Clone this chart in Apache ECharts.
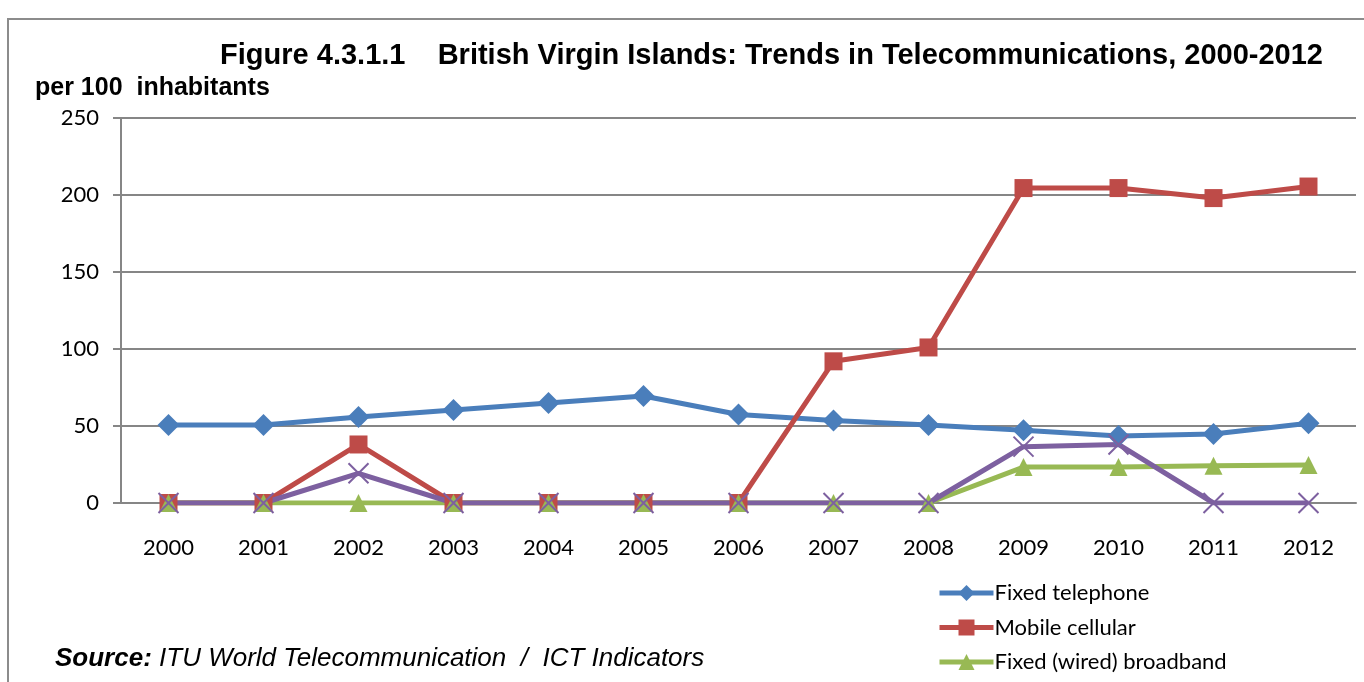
<!DOCTYPE html>
<html lang="en">
<head>
    <meta charset="UTF-8">
    <title>British Virgin Islands: Trends in Telecommunications</title>
    <script src="https://cdn.jsdelivr.net/npm/echarts@6/dist/echarts.min.js"></script>
    <style>
        html, body { margin: 0; padding: 0; background: #fff; }
        #main { width: 1364px; height: 682px; }
    </style>
</head>
<body>
<div id="main"></div>
<script>
    // data
    const years = ['2000', '2001', '2002', '2003', '2004', '2005', '2006', '2007', '2008', '2009', '2010', '2011', '2012']
    const fixedTelephone = [50.6, 50.6, 55.8, 60.4, 65, 69.5, 57.5, 53.5, 50.6, 47.2, 43.5, 44.8, 51.8]
    const mobileCellular = [0, 0, 38, 0, 0, 0, 0, 92, 101, 204.5, 204.5, 198, 205.5]
    const fixedBroadband = [0, 0, 0, 0, 0, 0, 0, 0, 0, 23.3, 23.3, 24.2, 24.6]
    const internetUsers = [0, 0, 19.3, 0, 0, 0, 0, 0, 0, 36.6, 38, 0, 0]

    const labelFont = 'Lato, "Open Sans", sans-serif'
    const titleFont = '"Liberation Sans Narrow", "Liberation Sans", Arial, sans-serif'

    function lineSeries(name, data, color, symbol, size) {
        return {
            name: name,
            type: 'line',
            data: data,
            symbol: symbol,
            symbolSize: size,
            lineStyle: { color: color, width: 5 },
            itemStyle: { color: color },
            emphasis: { disabled: true }
        }
    }

    const cross = lineSeries('Internet users', internetUsers, '#7D60A0',
        'path://M0,0L10,10M10,0L0,10', 20)
    cross.itemStyle = { color: 'none', borderColor: '#7D60A0', borderWidth: 2 }

    const chart = echarts.init(document.getElementById('main'))
    chart.setOption({
        animation: false,
        textStyle: { fontFamily: labelFont },
        title: {
            text: 'Figure 4.3.1.1    British Virgin Islands: Trends in Telecommunications, 2000-2012',
            right: 36,
            top: 36,
            textStyle: { fontFamily: titleFont, fontSize: 29, fontWeight: 'bold', color: '#000' }
        },
        graphic: [
            {
                type: 'rect',
                shape: { x: 8, y: 19, width: 1400, height: 700 },
                style: { fill: 'none', stroke: '#8c8c8c', lineWidth: 2 },
                silent: true
            },
            {
                type: 'text',
                left: 35,
                top: 76,
                style: { text: 'per 100  inhabitants', font: 'bold 25px ' + titleFont, fill: '#000' }
            },
            {
                type: 'text',
                left: 55,
                top: 646,
                style: {
                    text: '{b|Source:} ITU World Telecommunication  /  ICT Indicators',
                    font: 'italic 26px ' + titleFont,
                    fill: '#000',
                    rich: {
                        b: { font: 'italic bold 26px ' + titleFont, fill: '#000' }
                    }
                }
            }
        ],
        legend: {
            orient: 'vertical',
            left: 932,
            top: 577,
            height: 400,
            itemWidth: 54,
            itemHeight: 20,
            itemGap: 12.5,
            lineStyle: { width: 5 },
            textStyle: { fontFamily: labelFont, fontSize: 22, color: '#000', padding: [0, 0, 0, -4] },
            data: ['Fixed telephone', 'Mobile cellular', 'Fixed (wired) broadband', 'Internet users']
        },
        grid: { left: 121, right: 8, top: 118, height: 385 },
        xAxis: {
            type: 'category',
            data: years,
            boundaryGap: true,
            axisLine: { lineStyle: { color: '#868686', width: 2 } },
            axisTick: { length: 8, lineStyle: { color: '#868686', width: 2 } },
            axisLabel: { color: '#000', fontSize: 22, margin: 34 }
        },
        yAxis: {
            type: 'value',
            min: 0,
            max: 250,
            interval: 50,
            axisLine: { show: true, lineStyle: { color: '#868686', width: 2 } },
            axisTick: { show: true, length: 8, lineStyle: { color: '#868686', width: 2 } },
            axisLabel: { color: '#000', fontSize: 22, margin: 22 },
            splitLine: { lineStyle: { color: '#868686', width: 2 } }
        },
        series: [
            lineSeries('Fixed telephone', fixedTelephone, '#4A7EBB', 'diamond', 22),
            lineSeries('Mobile cellular', mobileCellular, '#BE4B48', 'rect', 18),
            lineSeries('Fixed (wired) broadband', fixedBroadband, '#98B954', 'triangle', 18),
            cross
        ]
    })
</script>
</body>
</html>
